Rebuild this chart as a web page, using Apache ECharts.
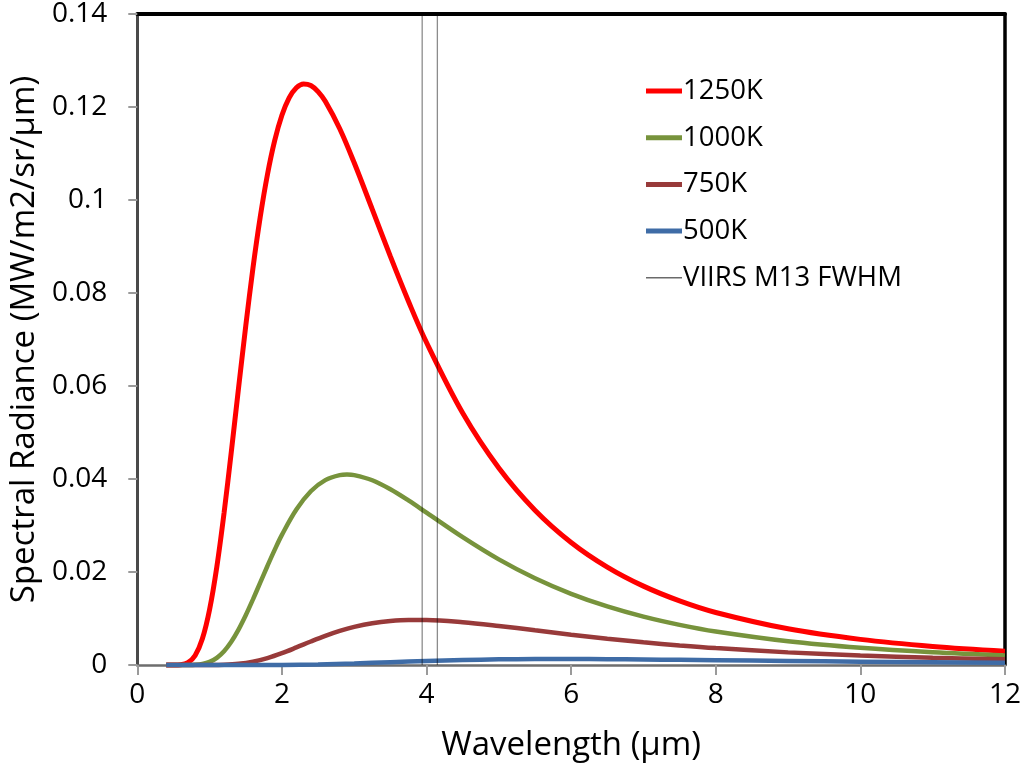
<!DOCTYPE html>
<html>
<head>
<meta charset="utf-8">
<script src="https://cdn.jsdelivr.net/npm/echarts@6/dist/echarts.min.js"></script>
<style>html,body{margin:0;padding:0;background:#fff}#c{width:1024px;height:770px}</style>
</head>
<body>
<div id="c"></div>
<script>
var xTicks = [0, 2, 4, 6, 8, 10, 12];
var yTicks = [0, 0.02, 0.04, 0.06, 0.08, 0.1, 0.12, 0.14];

var wl1250 = [0.4,0.5,0.6,0.7,0.8,0.9,1.0,1.1,1.2,1.3,1.4,1.5,1.6,1.7,1.8,1.9,2.0,2.1,2.2,2.3,2.4,2.5,2.6,2.8,3.0,3.25,3.5,3.75,4.0,4.5,5.0,5.5,6.0,6.5,7.0,7.5,8.0,9.0,10,11,12];
var r1250 = [0,0.0000038,0.0000714,0.000512,0.00205,0.00563,0.01194,0.02111,0.03268,0.04582,0.0595,0.0729,0.0854,0.0963,0.10546,0.11276,0.11822,0.12196,0.12414,0.12496,0.12464,0.12332,0.12122,0.11533,0.108,0.09798,0.08786,0.07823,0.06935,0.05419,0.04237,0.0333,0.02636,0.02106,0.01696,0.01379,0.0113,0.00778,0.00551,0.004,0.00297];

var wl1000 = [0.4,0.6,0.7,0.8,0.9,1.0,1.1,1.2,1.3,1.4,1.5,1.6,1.7,1.8,1.9,2.0,2.2,2.4,2.6,2.8,2.9,3.0,3.25,3.5,3.75,4.0,4.5,5.0,5.5,6.0,6.5,7.0,7.5,8.0,9.0,10,11,12];
var r1000 = [0,0.0000006,0.0000084,0.0000562,0.00023,0.000672,0.001543,0.00297,0.005006,0.00762,0.010706,0.014126,0.017705,0.021293,0.024754,0.027977,0.03343,0.03736,0.03976,0.04083,0.04095,0.04083,0.03973,0.03779,0.03539,0.03277,0.0275,0.02272,0.01866,0.015314,0.012598,0.010405,0.008638,0.007211,0.005111,0.003704,0.00274,0.002066];

var wl750 = [0.4,0.8,1.0,1.2,1.4,1.6,1.8,2.0,2.2,2.4,2.6,2.8,3.0,3.25,3.5,3.75,4.0,4.5,5.0,5.5,6.0,6.5,7.0,7.5,8.0,9.0,10,11,12];
var r750 = [0,0,0.0000056,0.0000546,0.000248,0.000705,0.001482,0.002541,0.003774,0.005054,0.006264,0.007329,0.0082,0.008998,0.009483,0.009697,0.00969,0.009216,0.008398,0.00746,0.006527,0.005661,0.004888,0.004214,0.003634,0.002715,0.00205,0.001567,0.001213];

var wl500 = [0.4,1.0,1.5,2.0,2.5,3.0,3.5,4.0,4.5,5.0,5.5,6.0,6.5,7.0,7.5,8.0,9.0,10,11,12];
var r500 = [0,0,0.0000007,0.000021,0.000122,0.000335,0.000609,0.000874,0.00108,0.00121,0.001271,0.001276,0.001241,0.001181,0.001106,0.001024,0.00086,0.00071,0.000583,0.000479];

var viirsWl = [3.94,3.94,4.15,4.15];
var viirsVal = [0,0.14,0.14,0];

var seriesNames = ['1250K','1000K','750K','500K','VIIRS M13 FWHM'];

function pairs(xs, ys){ return xs.map(function(x,i){ return [x, ys[i]]; }); }

var FONT = 'Open Sans';
var chart = echarts.init(document.getElementById('c'), null, {renderer:'canvas'});

function curve(name, xs, ys, color, width){
  return {
    name: name, type: 'line', data: pairs(xs, ys),
    smooth: 0.35, symbol: 'none', showSymbol: false, clip: false,
    lineStyle: {color: color, width: width},
    itemStyle: {color: color},
    animation: false
  };
}

var thickIcon = 'path://M0,0L36,0L36,5L0,5Z';
var thinIcon = 'path://M0,0L33,0L33,1.4L0,1.4Z';

chart.setOption({
  backgroundColor: '#ffffff',
  animation: false,
  textStyle: {fontFamily: FONT},
  grid: {left: 135, right: 16, top: 12, bottom: 105, containLabel: false},
  legend: {
    data: [
      {name: seriesNames[0], icon: thickIcon, itemStyle: {color: '#ff0000'}},
      {name: seriesNames[1], icon: thickIcon, itemStyle: {color: '#77933c'}},
      {name: seriesNames[2], icon: thickIcon, itemStyle: {color: '#983a3a'}},
      {name: seriesNames[3], icon: thickIcon, itemStyle: {color: '#3f6ca6'}},
      {name: seriesNames[4], icon: thinIcon, itemStyle: {color: '#6a6a6a'}}
    ],
    orient: 'vertical',
    left: 641, top: 71,
    itemWidth: 36, itemHeight: 14, itemGap: 16.7,
    symbolKeepAspect: true,
    textStyle: {fontFamily: FONT, fontSize: 27.5, color: '#000', lineHeight: 30, padding: [0,0,0,-4]}
  },
  xAxis: [{
    type: 'value', min: 0, max: 12, interval: 2,
    name: 'Wavelength (µm)', nameLocation: 'middle', nameGap: 64,
    nameTextStyle: {fontFamily: FONT, fontSize: 33, color: '#000'},
    axisLine: {show: true, onZero: false, lineStyle: {color: '#6e6e6e', width: 2.5}},
    axisTick: {show: true, inside: false, length: 10, lineStyle: {color: '#9a9a9a', width: 2}},
    axisLabel: {fontFamily: FONT, fontSize: 28, color: '#000', margin: 16,
      formatter: function(v){ return xTicks.indexOf(v) >= 0 ? String(v) : ''; }},
    splitLine: {show: false}
  },{
    type: 'value', min: 0, max: 12, interval: 2, position: 'top',
    axisLine: {show: true, onZero: false, lineStyle: {color: '#000', width: 4}},
    axisTick: {show: false}, axisLabel: {show: false}, splitLine: {show: false}
  }],
  yAxis: [{
    type: 'value', min: 0, max: 0.14, interval: 0.02,
    name: 'Spectral Radiance (MW/m2/sr/µm)', nameLocation: 'middle', nameGap: 96,
    nameTextStyle: {fontFamily: FONT, fontSize: 33, color: '#000'},
    axisLine: {show: true, onZero: false, lineStyle: {color: '#4a4a4a', width: 3}},
    axisTick: {show: true, inside: false, length: 9, lineStyle: {color: '#9a9a9a', width: 2}},
    axisLabel: {fontFamily: FONT, fontSize: 28, color: '#000', margin: 30,
      formatter: function(v){
        var r = Math.round(v*100)/100;
        for (var i=0;i<yTicks.length;i++){ if (Math.abs(yTicks[i]-r)<1e-9) return String(yTicks[i]); }
        return '';
      }},
    splitLine: {show: false}
  },{
    type: 'value', min: 0, max: 0.14, interval: 0.02, position: 'right',
    axisLine: {show: true, onZero: false, lineStyle: {color: '#000', width: 3.5}},
    axisTick: {show: false}, axisLabel: {show: false}, splitLine: {show: false}
  }],
  series: [
    curve(seriesNames[0], wl1250, r1250, '#ff0000', 5),
    curve(seriesNames[1], wl1000, r1000, '#77933c', 4.5),
    curve(seriesNames[2], wl750, r750, '#983a3a', 4.5),
    curve(seriesNames[3], wl500, r500, '#3f6ca6', 4.5),
    {
      name: seriesNames[4], type: 'line', data: pairs(viirsWl, viirsVal),
      smooth: false, symbol: 'none', showSymbol: false, clip: false,
      lineStyle: {color: 'rgba(0,0,0,0.45)', width: 1.3},
      itemStyle: {color: '#6a6a6a'},
      z: 5, animation: false
    }
  ]
});
</script>
</body>
</html>
